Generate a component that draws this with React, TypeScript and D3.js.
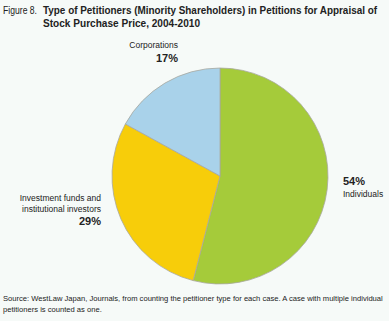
import React from "react";
import * as d3 from "d3";

const categories = ["Individuals", "Investment funds and institutional investors", "Corporations"];
const values = [54, 29, 17];
const colors = ["#a5cb3a", "#f7cd0a", "#a9d2ea"];

const W = 389, H = 321;
const cx = 220, cy = 176, R = 108;
const font = "'Liberation Sans', Arial, sans-serif";

export default function App() {
  const pie = d3.pie<number>().sort(null).startAngle(0).endAngle(2 * Math.PI)(values);
  const arc = d3.arc<d3.PieArcDatum<number>>().innerRadius(0).outerRadius(R);
  return (
    <svg width={W} height={H} style={{ position: "absolute", left: 0, top: 0, background: "#f6faf8" }}>
      <rect width={W} height={H} fill="#f6faf8" />
      <text x={3} y={14} fontFamily={font} fontSize={10} fill="#222" textLength={34} lengthAdjust="spacingAndGlyphs">
        Figure 8.
      </text>
      <text x={43} y={14} fontFamily={font} fontSize={10} fontWeight="bold" fill="#222" textLength={334} lengthAdjust="spacingAndGlyphs">
        Type of Petitioners (Minority Shareholders) in Petitions for Appraisal of
      </text>
      <text x={43} y={27} fontFamily={font} fontSize={10} fontWeight="bold" fill="#222" textLength={157} lengthAdjust="spacingAndGlyphs">
        Stock Purchase Price, 2004-2010
      </text>
      <g transform={`translate(${cx},${cy})`}>
        {pie.map((d, i) => (
          <path key={i} d={arc(d) || ""} fill={colors[i]} stroke="#a8a8a0" strokeWidth={0.8} />
        ))}
      </g>
      <text x={178} y={48} textAnchor="end" fontFamily={font} fontSize={8.5} fill="#222">{categories[2]}</text>
      <text x={178} y={62} textAnchor="end" fontFamily={font} fontSize={11} fontWeight="bold" fill="#222">{values[2]}%</text>
      <text x={101} y={201} textAnchor="end" fontFamily={font} fontSize={8.5} fill="#222">Investment funds and</text>
      <text x={101} y={212} textAnchor="end" fontFamily={font} fontSize={8.5} fill="#222">institutional investors</text>
      <text x={101} y={225} textAnchor="end" fontFamily={font} fontSize={11} fontWeight="bold" fill="#222">{values[1]}%</text>
      <text x={343} y={185} fontFamily={font} fontSize={11} fontWeight="bold" fill="#222">{values[0]}%</text>
      <text x={343} y={197} fontFamily={font} fontSize={8.5} fill="#222">{categories[0]}</text>
      <text x={3} y={301} fontFamily={font} fontSize={7.6} fill="#222">
        Source: WestLaw Japan, Journals, from counting the petitioner type for each case. A case with multiple individual
      </text>
      <text x={3} y={312} fontFamily={font} fontSize={7.6} fill="#222">petitioners is counted as one.</text>
    </svg>
  );
}
